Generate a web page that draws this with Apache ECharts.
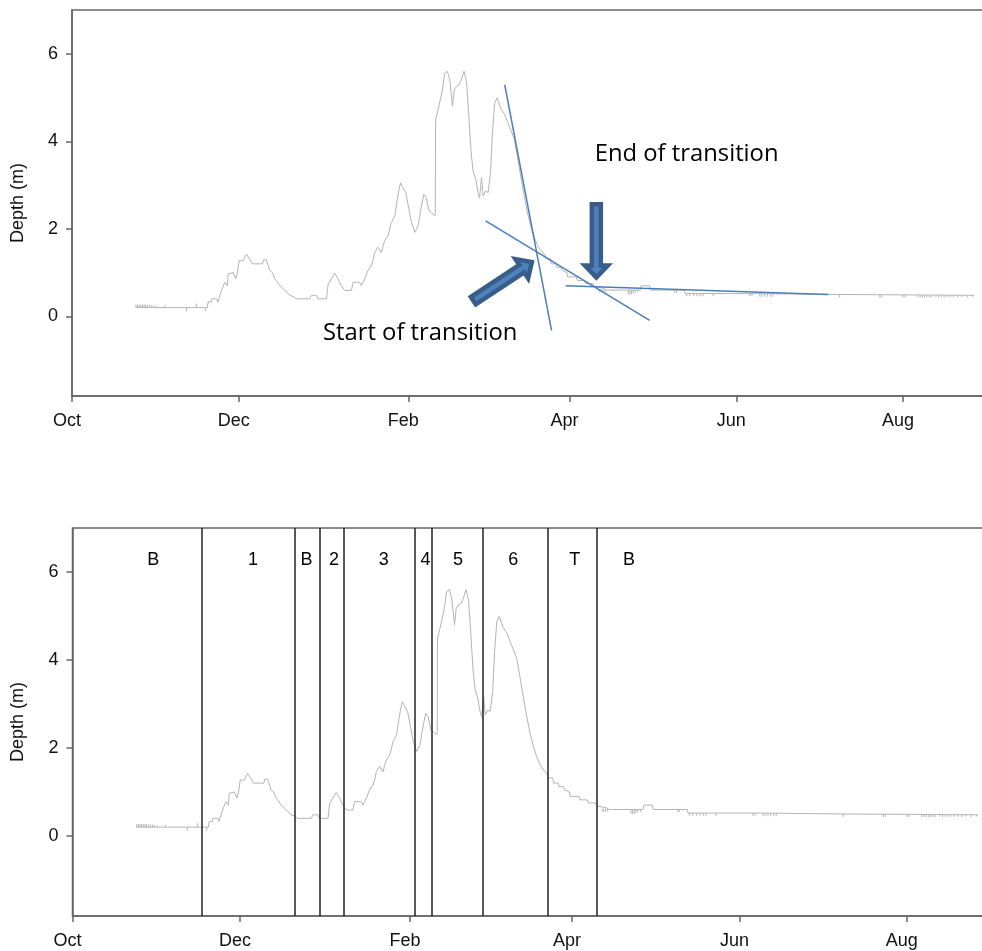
<!DOCTYPE html>
<html>
<head>
<meta charset="utf-8">
<script src="https://cdn.jsdelivr.net/npm/echarts/dist/echarts.min.js"></script>
<style>
html,body{margin:0;padding:0;background:#fff;}
#main{width:982px;height:951px;}
</style>
</head>
<body>
<div id="main"></div>
<script>
// ---- axis ticks ----
const monthTickDays = [0, 61, 123, 182, 243, 304];       // days since 1 Oct
const monthLabels = ['Oct', 'Dec', 'Feb', 'Apr', 'Jun', 'Aug'];
const depthTicks = [0, 2, 4, 6];

// ---- depth record (day since 1 Oct, depth m) ----
const dayOfSeason = [
  23.3, 49.5, 49.8, 51.0, 51.1, 53.0, 53.4, 54.0, 54.7, 55.9, 56.5, 56.8, 57.1, 57.7, 59.0, 59.9, 60.5,
  61.1, 62.6, 63.8, 64.3, 65.0, 66.0, 69.7, 70.1, 71.1, 71.6, 72.3, 73.3, 74.2, 75.0, 76.0, 77.0,
  77.8, 78.7, 79.6, 81.0, 82.1, 87.0, 87.6, 89.4, 90.0, 93.1, 93.7, 94.9, 96.1, 96.7, 97.3, 98.5,
  99.8, 102.2, 102.8, 105.2, 105.8, 107.1, 108.3, 109.5, 110.2, 110.7, 111.4, 111.9, 113.2, 113.7,
  114.4, 115.6, 116.8, 118.1, 118.9, 119.6, 120.2, 121.1, 122.1, 122.9, 124.2, 125.4, 126.6, 127.6,
  128.7, 129.6, 130.6, 131.5, 132.7, 132.9, 133.0, 133.9, 134.5, 135.5, 136.3, 137.3, 138.2, 139.2,
  139.8, 140.6, 141.6, 142.4, 143.4, 144.3, 145.1, 145.9, 146.7, 147.7, 148.5, 149.1, 149.8, 150.4,
  151.3, 152.2, 153.1, 153.8, 154.6, 155.5, 156.9, 158.2, 159.4, 160.6, 161.8, 163.0, 164.2, 165.5,
  166.7, 167.9, 169.1, 170.3, 171.5, 173.0, 173.3, 175.0, 175.3, 177.0, 177.3, 179.0, 179.3, 181.0,
  181.3, 184.5, 184.9, 187.5, 187.9, 190.6, 191.0, 194.6, 195.5, 207.9, 208.2, 211.3, 211.6, 224.0,
  224.3, 250.0, 280.0, 330.0
];
const depth = [
  0.20, 0.20, 0.33, 0.33, 0.40, 0.40, 0.33, 0.36, 0.59, 0.78, 0.82, 0.70, 0.97, 1.00, 1.00, 0.86, 1.00,
  1.27, 1.27, 1.42, 1.46, 1.31, 1.20, 1.20, 1.29, 1.29, 1.20, 1.05, 1.00, 0.86, 0.80, 0.70, 0.65,
  0.59, 0.55, 0.48, 0.45, 0.40, 0.40, 0.48, 0.48, 0.40, 0.40, 0.74, 0.86, 0.99, 0.95, 0.86, 0.70,
  0.59, 0.59, 0.78, 0.78, 0.70, 0.86, 1.05, 1.16, 1.30, 1.46, 1.50, 1.58, 1.46, 1.60,
  1.73, 1.84, 2.14, 2.30, 2.64, 2.90, 3.05, 2.94, 2.83, 2.56, 2.14, 1.92, 2.07, 2.45,
  2.79, 2.71, 2.41, 2.37, 2.30, 2.37, 4.49, 4.72, 4.76, 5.17, 5.55, 5.60, 5.40, 4.80,
  5.17, 5.25, 5.29, 5.40, 5.60, 5.36, 4.64, 3.81, 3.32, 3.13, 2.83, 2.71, 3.17, 2.75,
  2.86, 2.83, 3.28, 4.19, 4.87, 4.99, 4.74, 4.62, 4.43, 4.24, 4.05, 3.63, 3.18, 2.72,
  2.34, 2.04, 1.81, 1.62, 1.51, 1.40, 1.32, 1.32, 1.20, 1.20, 1.12, 1.12, 1.05, 1.00,
  0.90, 0.90, 0.82, 0.82, 0.75, 0.75, 0.68, 0.64, 0.60, 0.60, 0.70, 0.70, 0.60, 0.60,
  0.52, 0.52, 0.50, 0.48
];

// small recorder spikes along the flat parts (day, from depth, to depth)
const spikeDay = [
  23.4, 24.0, 24.6, 25.2, 25.8, 26.4, 27.0, 27.6, 28.4, 29.2, 30.0, 31.0, 33.9, 41.9, 45.5, 48.9,
  193.0, 193.6, 194.2, 195.0, 203.5, 204.1, 204.7, 205.3, 206.0, 207.0,
  220.5, 221.1, 224.8, 226.0, 227.4, 228.6, 229.8, 230.8, 234.5, 247.9, 248.7,
  251.6, 252.4, 253.4, 254.4, 255.5, 256.4, 280.8, 295.5, 296.2, 304.0, 304.7,
  309.5, 310.3, 311.1, 311.9, 312.7, 313.5, 314.3, 316.0, 317.0, 318.0, 319.0, 320.0,
  321.2, 322.5, 324.0, 325.5, 327.5, 329.5
];
const spikeBase = [
  0.20, 0.20, 0.20, 0.20, 0.20, 0.20, 0.20, 0.20, 0.20, 0.20, 0.20, 0.20, 0.20, 0.20, 0.20, 0.20,
  0.62, 0.62, 0.62, 0.62, 0.60, 0.60, 0.60, 0.60, 0.60, 0.60,
  0.60, 0.60, 0.52, 0.52, 0.52, 0.52, 0.52, 0.52, 0.52, 0.52, 0.52,
  0.51, 0.51, 0.51, 0.51, 0.51, 0.51, 0.50, 0.49, 0.49, 0.49, 0.49,
  0.48, 0.48, 0.48, 0.48, 0.48, 0.48, 0.48, 0.48, 0.48, 0.48, 0.48, 0.48,
  0.48, 0.48, 0.48, 0.48, 0.48, 0.48
];
const spikeTip = [
  0.27, 0.27, 0.27, 0.27, 0.27, 0.27, 0.27, 0.26, 0.27, 0.26, 0.25, 0.24, 0.25, 0.12, 0.29, 0.12,
  0.55, 0.55, 0.55, 0.55, 0.50, 0.50, 0.50, 0.52, 0.53, 0.55,
  0.54, 0.54, 0.46, 0.46, 0.46, 0.46, 0.46, 0.46, 0.46, 0.46, 0.46,
  0.45, 0.45, 0.45, 0.45, 0.45, 0.45, 0.43, 0.43, 0.43, 0.43, 0.43,
  0.43, 0.43, 0.43, 0.43, 0.43, 0.43, 0.43, 0.44, 0.43, 0.44, 0.43, 0.44,
  0.43, 0.44, 0.43, 0.44, 0.43, 0.44
];

// ---- top panel annotations (data coordinates) ----
const fitLineA = [[158.3, 5.29], [175.4, -0.32]];
const fitLineB = [[151.3, 2.18], [211.3, -0.09]];
const fitLineC = [[180.6, 0.70], [276.6, 0.50]];
const arrowTail = [[146.8, 0.36], [191.8, 2.56]];
const arrowTip  = [[168.2, 1.24], [191.8, 0.89]];
const noteTexts = ['Start of transition', 'End of transition'];
const notePos = [[91.8, -0.38], [191.2, 3.70]];

// ---- bottom panel phases ----
const phaseBoundaries = [47.1, 81.1, 90.2, 99.0, 124.7, 131.0, 149.4, 173.2, 191.1];
const phaseLabels = ['B', '1', 'B', '2', '3', '4', '5', '6', 'T', 'B'];
const phaseLabelDays = [29.4, 65.8, 85.3, 95.3, 113.4, 128.6, 140.5, 160.6, 183.0, 202.8];
const phaseLabelDepth = 6.27;

// ---- build ----
const FONT = 'Liberation Sans, Arial, sans-serif';
const AXIS_COLOR = '#666';
const TRACE_COLOR = '#b4b4b4';
const BLUE = '#4a7ebb';

const trace = dayOfSeason.map((d, i) => [d, depth[i]]);
const spikes = spikeDay.map((d, i) => [d, spikeBase[i], spikeTip[i]]);

function xAxisCfg(gi, max) {
  return {
    type: 'value', gridIndex: gi, min: 0, max: max,
    axisLine: { show: true, onZero: false, lineStyle: { color: AXIS_COLOR, width: 1.5 } },
    axisTick: { show: true, length: 6, inside: false, customValues: monthTickDays,
                lineStyle: { color: AXIS_COLOR, width: 1.5 } },
    axisLabel: { show: true, customValues: monthTickDays, showMinLabel: true, showMaxLabel: true,
                 fontFamily: FONT, fontSize: 18, color: '#111', margin: 16, padding: [0, 10, 0, 0],
                 formatter: v => monthLabels[monthTickDays.indexOf(Math.round(v))] || '' },
    splitLine: { show: false }
  };
}
function yAxisCfg(gi) {
  return {
    type: 'value', gridIndex: gi, min: -1.82, max: 7,
    name: 'Depth (m)', nameLocation: 'middle', nameGap: 45,
    nameTextStyle: { fontFamily: FONT, fontSize: 18, color: '#111' },
    axisLine: { show: true, onZero: false, lineStyle: { color: AXIS_COLOR, width: 1.5 } },
    axisTick: { show: true, length: 6, inside: false, customValues: depthTicks,
                lineStyle: { color: AXIS_COLOR, width: 1.5 } },
    axisLabel: { show: true, customValues: depthTicks, fontFamily: FONT, fontSize: 18,
                 color: '#111', margin: 14 },
    splitLine: { show: false }
  };
}
function spikeSeries(gi) {
  return {
    type: 'custom', xAxisIndex: gi, yAxisIndex: gi, silent: true,
    data: spikes, encode: { x: 0, y: [1, 2] },
    renderItem: (params, api) => {
      const a = api.coord([api.value(0), api.value(1)]);
      const b = api.coord([api.value(0), api.value(2)]);
      return { type: 'line', shape: { x1: a[0], y1: a[1], x2: b[0], y2: b[1] },
               style: { stroke: TRACE_COLOR, lineWidth: 1 } };
    }
  };
}
function fitSeries(pts) {
  return {
    type: 'line', xAxisIndex: 0, yAxisIndex: 0, data: pts, showSymbol: false, silent: true,
    lineStyle: { color: BLUE, width: 1.5 }
  };
}
function textSeries(gi, items, font, size, align) {
  return {
    type: 'custom', xAxisIndex: gi, yAxisIndex: gi, silent: true,
    data: items, encode: { x: 0, y: 1 },
    renderItem: (params, api) => {
      const p = api.coord([api.value(0), api.value(1)]);
      return { type: 'text', x: p[0], y: p[1],
               style: { text: items[params.dataIndex][2], fill: '#000', font: size + 'px ' + font,
                        align: align, verticalAlign: 'middle' } };
    }
  };
}

const arrowData = arrowTail.map((t, i) => [t[0], t[1], arrowTip[i][0], arrowTip[i][1]]);
const noteItems = notePos.map((p, i) => [p[0], p[1], noteTexts[i]]);
const phaseItems = phaseLabelDays.map((d, i) => [d, phaseLabelDepth, phaseLabels[i]]);

const option = {
  animation: false,
  backgroundColor: '#fff',
  grid: [
    { left: 72, top: 10, width: 915, height: 386, show: true, borderColor: AXIS_COLOR, borderWidth: 1.5,
      containLabel: false, outerBoundsMode: 'none' },
    { left: 72.5, top: 528, width: 915, height: 388, show: true, borderColor: AXIS_COLOR, borderWidth: 1.5,
      containLabel: false, outerBoundsMode: 'none' }
  ],
  xAxis: [xAxisCfg(0, 334.7), xAxisCfg(1, 333.4)],
  yAxis: [yAxisCfg(0), yAxisCfg(1)],
  series: [
    { type: 'line', xAxisIndex: 0, yAxisIndex: 0, data: trace, showSymbol: false, silent: true,
      lineStyle: { color: TRACE_COLOR, width: 1 } },
    spikeSeries(0),
    fitSeries(fitLineA), fitSeries(fitLineB), fitSeries(fitLineC),
    {
      type: 'custom', xAxisIndex: 0, yAxisIndex: 0, silent: true,
      data: arrowData, encode: { x: [0, 2], y: [1, 3] },
      renderItem: (params, api) => {
        const T = api.coord([api.value(0), api.value(1)]);
        const P = api.coord([api.value(2), api.value(3)]);
        const dx = P[0] - T[0], dy = P[1] - T[1];
        const L = Math.sqrt(dx * dx + dy * dy);
        const ux = dx / L, uy = dy / L, nx = -uy, ny = ux;
        const w = 4.5, hw = 11.5, hl = 12;
        const nk = L - hl;
        const pt = (a, b) => [T[0] + ux * a + nx * b, T[1] + uy * a + ny * b];
        return {
          type: 'polygon',
          shape: { points: [pt(0, w), pt(nk, w), pt(nk, hw), pt(L, 0), pt(nk, -hw), pt(nk, -w), pt(0, -w)] },
          style: { fill: '#4f81bd', stroke: '#385d8a', lineWidth: 4.5, lineJoin: 'miter' }
        };
      }
    },
    textSeries(0, noteItems, '"Open Sans", sans-serif', 23.8, 'left'),
    { type: 'line', xAxisIndex: 1, yAxisIndex: 1, data: trace, showSymbol: false, silent: true,
      lineStyle: { color: TRACE_COLOR, width: 1 },
      markLine: { silent: true, symbol: ['none', 'none'], label: { show: false },
                  lineStyle: { color: '#222', width: 1.5, type: 'solid' },
                  emphasis: { disabled: true },
                  data: phaseBoundaries.map(d => ({ xAxis: d })) } },
    spikeSeries(1),
    textSeries(1, phaseItems, '"Liberation Sans", Arial, sans-serif', 18, 'center')
  ]
};

const chart = echarts.init(document.getElementById('main'), null, { renderer: 'canvas' });
chart.setOption(option);
</script>
</body>
</html>
